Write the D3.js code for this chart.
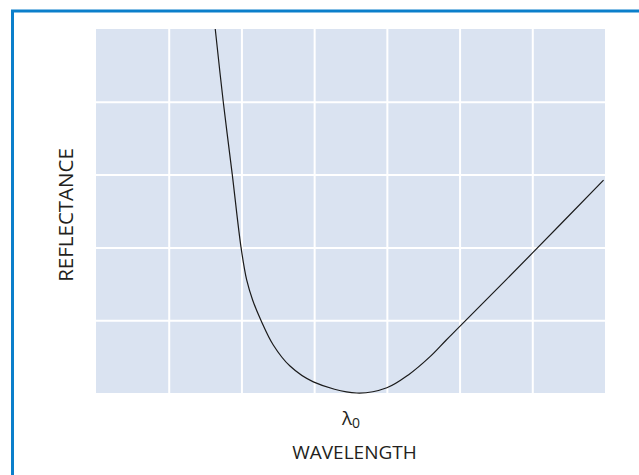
<!DOCTYPE html>
<html>
<head>
<meta charset="utf-8">
<script src="https://cdn.jsdelivr.net/npm/d3@7"></script>
<style>
  body { margin: 0; background: #fff; }
  text { font-family: "Open Sans", sans-serif; fill: #231f20; }
</style>
</head>
<body>
<div id="chart"></div>
<script>
// curve, in grid units (7 columns x 5 rows)
var wavelength  = [1.64, 1.75, 1.875, 1.994, 2.073, 2.155, 2.265, 2.438, 2.668, 2.989, 3.585, 4.0, 4.3, 4.594, 4.814, 5.0, 6.0, 6.98];
var reflectance = [5.0, 4.0, 2.993, 2.004, 1.549, 1.275, 1.007, 0.66, 0.37, 0.153, 0.0, 0.072, 0.252, 0.499, 0.725, 0.911, 1.921, 2.925];
var xGrid = [1, 2, 3, 4, 5, 6];
var yGrid = [1, 2, 3, 4];
var xTicks = [3.5];
var xTickLabels = ['λ'];
var xTickSubs = ['0'];

var width = 639, height = 475;
var plotLeft = 96, plotRight = 605, plotTop = 29, plotBottom = 393;

var svg = d3.select('#chart').append('svg')
    .attr('width', width)
    .attr('height', height);

// blue frame (only top & left edges fall inside the picture)
svg.append('rect')
    .attr('x', 12.5)
    .attr('y', 11)
    .attr('width', 700)
    .attr('height', 600)
    .style('fill', 'none')
    .style('stroke', '#0b7fcb')
    .style('stroke-width', 3);

var x = d3.scaleLinear().domain([0, 7]).range([plotLeft, plotRight]);
var y = d3.scaleLinear().domain([0, 5]).range([plotBottom, plotTop]);

svg.append('rect')
    .attr('x', x(0))
    .attr('y', y(5))
    .attr('width', x(7) - x(0))
    .attr('height', y(0) - y(5))
    .style('fill', '#dae3f1');

// gridlines
var gx = svg.append('g')
    .attr('transform', 'translate(0,' + plotBottom + ')')
    .call(d3.axisBottom(x).tickValues(xGrid).tickSize(-(plotBottom - plotTop)).tickFormat(''));
var gy = svg.append('g')
    .attr('transform', 'translate(' + plotLeft + ',0)')
    .call(d3.axisLeft(y).tickValues(yGrid).tickSize(-(plotRight - plotLeft)).tickFormat(''));
[gx, gy].forEach(function(g) {
    g.select('.domain').remove();
    g.selectAll('line').style('stroke', '#fff').style('stroke-width', 2);
});

// the curve
var line = d3.line()
    .x(function(d, i) { return x(wavelength[i]); })
    .y(function(d, i) { return y(reflectance[i]); })
    .curve(d3.curveCatmullRom.alpha(0.5));

svg.append('path')
    .datum(wavelength)
    .attr('d', line)
    .style('fill', 'none')
    .style('stroke', '#1a1a1a')
    .style('stroke-width', 1.2);

// lambda tick label (with subscript)
var ax = svg.append('g')
    .attr('transform', 'translate(0,' + plotBottom + ')')
    .call(d3.axisBottom(x).tickValues(xTicks).tickSize(0).tickPadding(19).tickFormat(''));
ax.select('.domain').remove();
ax.selectAll('text').each(function(d, i) {
    var t = d3.select(this)
        .style('font-family', '"Open Sans", sans-serif')
        .style('font-size', '19px')
        .style('fill', '#231f20');
    t.append('tspan').text(xTickLabels[i]);
    t.append('tspan').attr('dy', 3).style('font-size', '14px').text(xTickSubs[i]);
});

// axis titles
svg.append('text')
    .attr('x', x(3.5) + 4)
    .attr('y', 459)
    .attr('text-anchor', 'middle')
    .style('font-size', '19px')
    .text('WAVELENGTH');

svg.append('text')
    .attr('transform', 'translate(73,215) rotate(-90)')
    .attr('text-anchor', 'middle')
    .style('font-size', '20.5px')
    .text('REFLECTANCE');
</script>
</body>
</html>
